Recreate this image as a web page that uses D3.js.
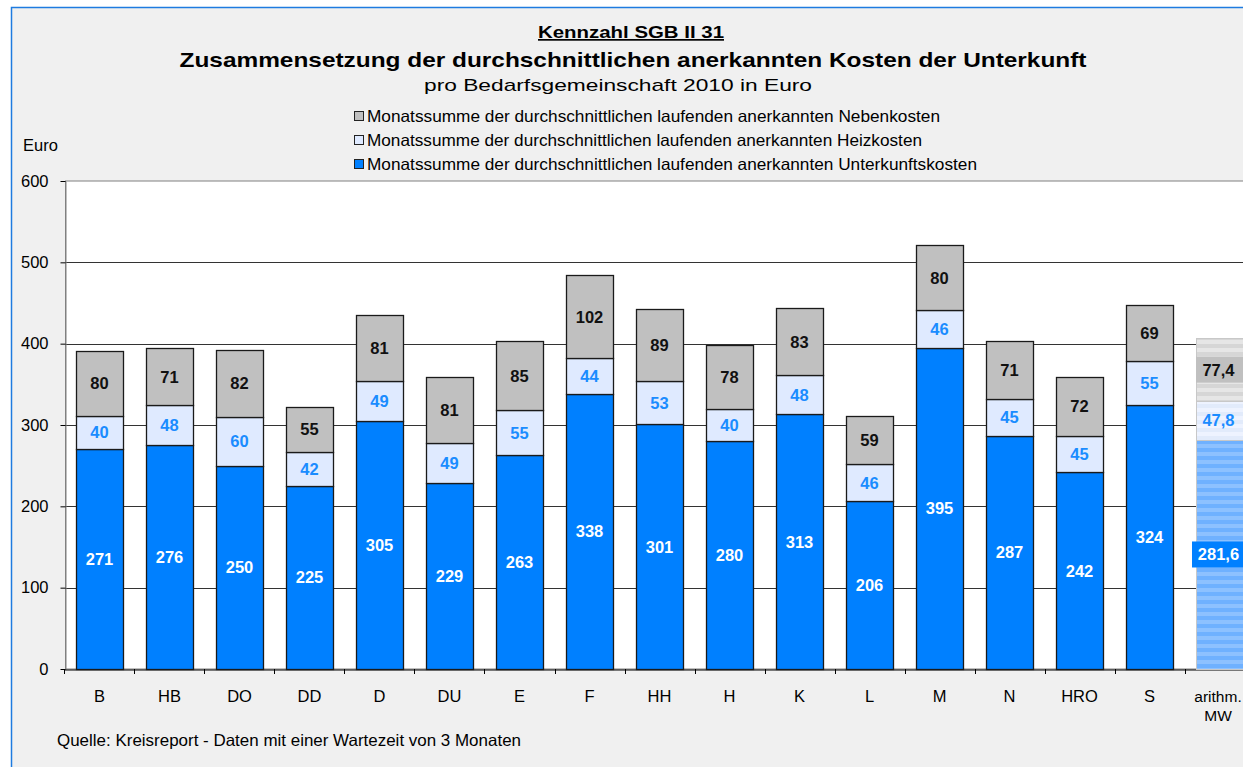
<!DOCTYPE html>
<html><head><meta charset="utf-8">
<script src="https://cdn.jsdelivr.net/npm/d3@7"></script>
<style>body{margin:0;background:#fff;}svg{display:block;font-family:"Liberation Sans",Arial,sans-serif;}</style>
</head><body>
<svg id="c" width="1243" height="767"></svg>
<script>
const categories = ["B","HB","DO","DD","D","DU","E","F","HH","H","K","L","M","N","HRO","S","arithm. MW"];
const unterkunft = [271,276,250,225,305,229,263,338,301,280,313,206,395,287,242,324,281.6];
const heiz = [40,48,60,42,49,49,55,44,53,40,48,46,46,45,45,55,47.8];
const neben = [80,71,82,55,81,81,85,102,89,78,83,59,80,71,72,69,77.4];
const yTicks = [0,100,200,300,400,500,600];
const legendLabels = [
  "Monatssumme der durchschnittlichen laufenden anerkannten  Nebenkosten",
  "Monatssumme der durchschnittlichen laufenden anerkannten  Heizkosten",
  "Monatssumme der durchschnittlichen laufenden anerkannten  Unterkunftskosten"
];

const svg = d3.select("#c");
const fmt = v => String(v).replace(".", ",");
const FS = 16.5;

// frame
svg.append("rect").attr("x",11.5).attr("y",7.5).attr("width",1300).attr("height",800)
  .attr("fill","#f0f0f0").attr("stroke","#1e7be0").attr("stroke-width",1.5);

const defs = svg.append("defs");
function stripes(id, c1, c2){
  const p = defs.append("pattern").attr("id",id).attr("patternUnits","userSpaceOnUse")
    .attr("width",8).attr("height",8);
  p.append("rect").attr("width",8).attr("height",8).attr("fill",c1);
  p.append("rect").attr("y",4).attr("width",8).attr("height",4).attr("fill",c2);
}
stripes("pBlue","#6fb1ff","#8dc1ff");
stripes("pLight","#eef3ff","#e2ebfb");
stripes("pGrey","#d6d6d6","#e6e6e6");

const x = d3.scaleBand().domain(categories).range([64.5,1254.5]).paddingInner(0.33).paddingOuter(0.165);
const y = d3.scaleLinear().domain([0,600]).range([669,181]);

// plot area
svg.append("rect").attr("x",65.5).attr("y",y(600)).attr("width",1300).attr("height",y(0)-y(600))
  .attr("fill","#fff").attr("stroke","#808080");

// gridlines
svg.append("g").selectAll("line").data(yTicks.filter(t=>t>0 && t<600)).join("line")
  .attr("x1",65.5).attr("x2",1300).attr("y1",d=>Math.round(y(d))+0.5).attr("y2",d=>Math.round(y(d))+0.5)
  .attr("stroke","#333").attr("stroke-width",1);

// y axis
const yAxis = svg.append("g").attr("transform","translate(65.5,0)")
  .call(d3.axisLeft(y).tickValues(yTicks).tickSize(5).tickSizeOuter(0));
yAxis.select(".domain").attr("stroke","#808080");
yAxis.selectAll(".tick line").attr("stroke","#000");
yAxis.selectAll(".tick text").attr("font-size",FS).attr("fill","#000").attr("x",-17)
  .attr("font-family","Liberation Sans, Arial, sans-serif");

// x axis
const xAxis = svg.append("g").attr("transform",`translate(0,${y(0)+0.5})`)
  .call(d3.axisBottom(x).tickSize(0).tickSizeOuter(0));
xAxis.select(".domain").attr("stroke","#000");
xAxis.selectAll(".tick text").attr("font-size",FS).attr("fill","#000").attr("y",0).attr("dy","1.95em")
  .attr("font-family","Liberation Sans, Arial, sans-serif")
  .each(function(d){
    if(d==="arithm. MW"){
      const t=d3.select(this); t.text(null).attr("font-size",15.5).attr("dy",null);
      t.append("tspan").attr("x",-1.5).attr("dy","2.08em").text("arithm.");
      t.append("tspan").attr("x",-1.5).attr("dy","1.22em").text("MW");
    }
  });
// category boundary ticks
svg.append("g").selectAll("line").data(categories).join("line")
  .attr("x1",d=>Math.round(x(d)-x.step()*x.paddingInner()/2)+0.5)
  .attr("x2",d=>Math.round(x(d)-x.step()*x.paddingInner()/2)+0.5)
  .attr("y1",y(0)).attr("y2",y(0)+5).attr("stroke","#000");

// bars
const rows = categories.map((c,i)=>({c,i,u:unterkunft[i],h:heiz[i],n:neben[i]}));
const last = categories.length-1;
const segs = [];
rows.forEach(r=>{
  segs.push({c:r.c,i:r.i,y0:0,y1:r.u,v:r.u,k:"u"});
  segs.push({c:r.c,i:r.i,y0:r.u,y1:r.u+r.h,v:r.h,k:"h"});
  segs.push({c:r.c,i:r.i,y0:r.u+r.h,y1:r.u+r.h+r.n,v:r.n,k:"n"});
});
const fillN = {u:"#0080ff",h:"#dfeaff",n:"#c0c0c0"};
const fillL = {u:"url(#pBlue)",h:"url(#pLight)",n:"url(#pGrey)"};
svg.append("g").selectAll("rect").data(segs).join("rect")
  .attr("x",d=>Math.round(x(d.c))+0.5).attr("width",Math.round(x.bandwidth()))
  .attr("y",d=>Math.round(y(d.y1))+0.5).attr("height",d=>Math.round(y(d.y0))-Math.round(y(d.y1)))
  .attr("fill",d=>d.i===last?fillL[d.k]:fillN[d.k])
  .attr("stroke",d=>d.i===last?"#c8c8c8":"#1a1a1a").attr("stroke-width",d=>d.i===last?1:1.3);

// label boxes for last bar
const lr = rows[last];
svg.append("rect").attr("x",Math.round(x(lr.c))).attr("y",y(lr.u+lr.h+lr.n*0.5)-13)
  .attr("width",60).attr("height",26).attr("fill","#c0c0c0");
svg.append("rect").attr("x",Math.round(x(lr.c))-4).attr("y",y(lr.u/2)-13)
  .attr("width",70).attr("height",26).attr("fill","#0080ff");

// labels
const colL = {u:"#ffffff",h:"#1a8cff",n:"#111"};
svg.append("g").selectAll("text").data(segs).join("text")
  .attr("x",d=>d.i===last?x(d.c)+x.bandwidth()/2-1:x(d.c)+x.bandwidth()/2)
  .attr("y",d=>y((d.y0+d.y1)/2)).attr("dy","0.36em")
  .attr("text-anchor","middle").attr("font-weight","bold").attr("font-size",FS)
  .attr("fill",d=>colL[d.k]).text(d=>fmt(d.v));

// titles
svg.append("text").attr("x",631).attr("y",38).attr("text-anchor","middle").attr("font-weight","bold")
  .attr("font-size",17).attr("text-decoration","underline").attr("textLength",186).attr("lengthAdjust","spacingAndGlyphs")
  .text("Kennzahl SGB II 31");
svg.append("text").attr("x",633).attr("y",67).attr("text-anchor","middle").attr("font-weight","bold")
  .attr("font-size",21).attr("textLength",907).attr("lengthAdjust","spacingAndGlyphs")
  .text("Zusammensetzung der durchschnittlichen anerkannten Kosten der Unterkunft");
svg.append("text").attr("x",618).attr("y",91).attr("text-anchor","middle")
  .attr("font-size",17).attr("textLength",388).attr("lengthAdjust","spacingAndGlyphs")
  .text("pro Bedarfsgemeinschaft 2010 in Euro");

// legend
const legFill = ["#c0c0c0","#dfeaff","#0080ff"];
const legLen = [573,555,610];
const lg = svg.append("g").selectAll("g").data(legendLabels).join("g")
  .attr("transform",(d,i)=>`translate(354,${116+i*24})`);
lg.append("rect").attr("x",0.5).attr("y",-4.5).attr("width",9).attr("height",9)
  .attr("fill",(d,i)=>legFill[i]).attr("stroke","#222");
lg.append("text").attr("x",13).attr("y",0).attr("dy","0.36em").attr("font-size",FS)
  .attr("textLength",(d,i)=>legLen[i]).attr("lengthAdjust","spacingAndGlyphs").text(d=>d);

svg.append("text").attr("x",23).attr("y",151).attr("font-size",FS).text("Euro");
svg.append("text").attr("x",57).attr("y",746).attr("font-size",FS)
  .attr("textLength",464).attr("lengthAdjust","spacingAndGlyphs")
  .text("Quelle: Kreisreport - Daten mit einer Wartezeit  von 3 Monaten");
</script>
</body></html>
